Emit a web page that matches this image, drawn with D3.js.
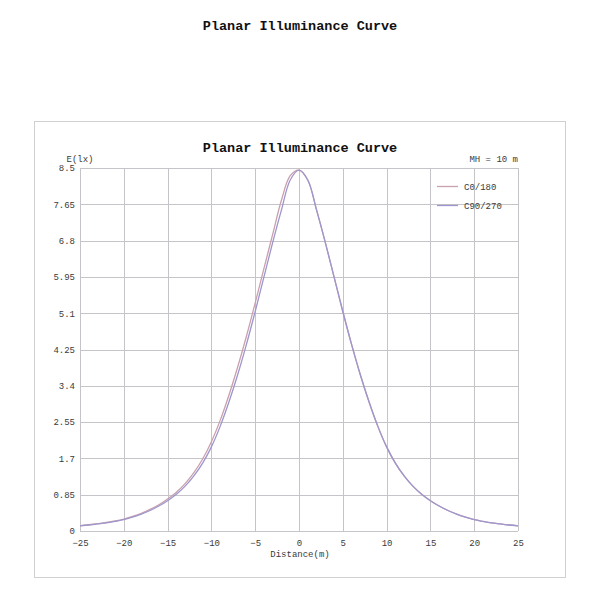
<!DOCTYPE html>
<html>
<head>
<meta charset="utf-8">
<script src="https://cdn.jsdelivr.net/npm/d3@7"></script>
<style>
  body { margin: 0; background: #fff; }
  svg text { font-family: "Liberation Mono", "Courier New", "DejaVu Sans Mono", monospace; }
</style>
</head>
<body>
<svg id="chart" width="600" height="600"></svg>
<script>
// ---- data ----
const distances = d3.range(-25, 26, 1);
const c0Values = [
  0.125, 0.146, 0.171, 0.199, 0.235, 0.28, 0.342, 0.416, 0.506, 0.615,
  0.75, 0.91, 1.11, 1.365, 1.685, 2.09, 2.59, 3.18, 3.84, 4.56,
  5.34, 6.15, 6.95, 7.75, 8.32, 8.45,
  8.22, 7.52, 6.76, 5.95, 5.14, 4.37, 3.66, 3.02, 2.45, 1.97,
  1.59, 1.29, 1.05, 0.86, 0.71, 0.585, 0.48, 0.395, 0.325, 0.265,
  0.225, 0.19, 0.165, 0.14, 0.12
];
const c90Values = [
  0.12, 0.14, 0.165, 0.19, 0.225, 0.265, 0.325, 0.395, 0.48, 0.585,
  0.71, 0.86, 1.05, 1.29, 1.59, 1.97, 2.45, 3.02, 3.66, 4.37,
  5.14, 5.95, 6.76, 7.52, 8.22, 8.45,
  8.22, 7.52, 6.76, 5.95, 5.14, 4.37, 3.66, 3.02, 2.45, 1.97,
  1.59, 1.29, 1.05, 0.86, 0.71, 0.585, 0.48, 0.395, 0.325, 0.265,
  0.225, 0.19, 0.165, 0.14, 0.12
];
const seriesNames = ["C0/180", "C90/270"];
const seriesColors = ["#c8a0ae", "#9e96cc"];
const xTicks = [-25, -20, -15, -10, -5, 0, 5, 10, 15, 20, 25];
const yTicks = [0, 0.85, 1.7, 2.55, 3.4, 4.25, 5.1, 5.95, 6.8, 7.65, 8.5];
const titleText = "Planar Illuminance Curve";
const yAxisLabel = "E(lx)";
const xAxisLabel = "Distance(m)";
const mhLabel = "MH = 10 m";

// ---- layout ----
const svg = d3.select("#chart");
const pL = 80, pR = 518, pT = 168, pB = 531;
const x = d3.scaleLinear().domain([-25, 25]).range([pL, pR]);
const y = d3.scaleLinear().domain([0, 8.5]).range([pB, pT]);

// page title
svg.append("text").attr("x", 300).attr("y", 30).attr("text-anchor", "middle")
  .attr("font-size", 13.5).attr("font-weight", "bold").attr("fill", "#111").text(titleText);

// frame
svg.append("rect").attr("x", 34.5).attr("y", 121.5).attr("width", 531).attr("height", 456)
  .attr("fill", "none").attr("stroke", "#d0d0d0").attr("stroke-width", 1);

// inner title
svg.append("text").attr("x", 300).attr("y", 151.5).attr("text-anchor", "middle")
  .attr("font-size", 13.5).attr("font-weight", "bold").attr("fill", "#111").text(titleText);

// grid
const grid = svg.append("g");
grid.selectAll("line.v").data(xTicks).join("line")
  .attr("x1", d => Math.round(x(d)) + 0.5).attr("x2", d => Math.round(x(d)) + 0.5)
  .attr("y1", pT).attr("y2", pB)
  .attr("stroke", "#c6c4c8").attr("stroke-width", 1);
grid.selectAll("line.h").data(yTicks).join("line")
  .attr("y1", d => Math.round(y(d)) + 0.5).attr("y2", d => Math.round(y(d)) + 0.5)
  .attr("x1", pL).attr("x2", pR)
  .attr("stroke", "#c6c4c8").attr("stroke-width", 1);

// axes (labels only)
const xAxis = d3.axisBottom(x).tickValues(xTicks).tickSize(0).tickPadding(9);
const gx = svg.append("g").attr("transform", `translate(0,${pB})`).call(xAxis);
gx.select(".domain").remove();
gx.selectAll("text").attr("font-size", 9).attr("fill", "#3a3a3a")
  .attr("font-family", '"Liberation Mono", "Courier New", monospace');

const yAxis = d3.axisLeft(y).tickValues(yTicks).tickSize(0).tickPadding(5).tickFormat(d => String(d));
const gy = svg.append("g").attr("transform", `translate(${pL},0)`).call(yAxis);
gy.select(".domain").remove();
gy.selectAll("text").attr("font-size", 9).attr("fill", "#3a3a3a")
  .attr("font-family", '"Liberation Mono", "Courier New", monospace');

svg.append("text").attr("x", 80).attr("y", 162).attr("text-anchor", "middle")
  .attr("font-size", 9).attr("fill", "#3a3a3a").text(yAxisLabel);
svg.append("text").attr("x", 300).attr("y", 557).attr("text-anchor", "middle")
  .attr("font-size", 9).attr("fill", "#3a3a3a").text(xAxisLabel);
svg.append("text").attr("x", 518).attr("y", 162).attr("text-anchor", "end")
  .attr("font-size", 9).attr("fill", "#3a3a3a").text(mhLabel);

// curves
const series = [c0Values, c90Values];
const line = d3.line().x((d, i) => x(distances[i])).y(d => y(d)).curve(d3.curveCatmullRom.alpha(0.5));
series.forEach((vals, k) => {
  svg.append("path").datum(vals).attr("d", line)
    .attr("fill", "none").attr("stroke", seriesColors[k]).attr("stroke-width", 1.3);
});

// legend
const leg = svg.append("g");
seriesNames.forEach((name, k) => {
  const ly = 186.5 + k * 19;
  leg.append("line").attr("x1", 437).attr("x2", 458).attr("y1", ly).attr("y2", ly)
    .attr("stroke", seriesColors[k]).attr("stroke-width", 1.3);
  leg.append("text").attr("x", 464).attr("y", ly + 3).attr("font-size", 9)
    .attr("fill", "#3a3a3a").text(name);
});
</script>
</body>
</html>
